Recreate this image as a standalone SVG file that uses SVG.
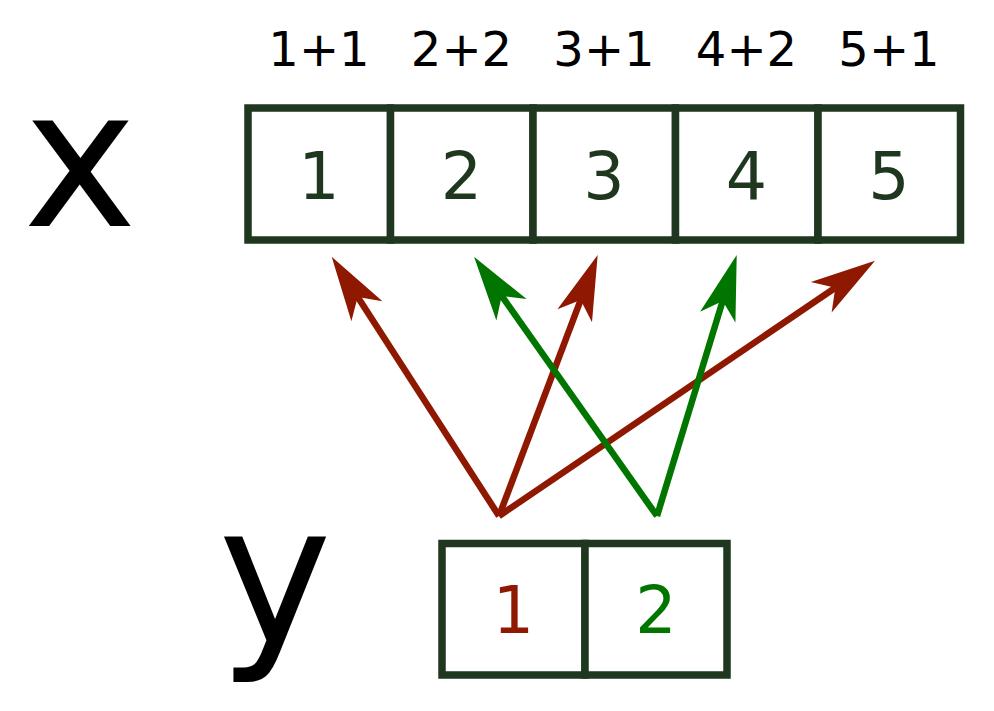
<svg xmlns="http://www.w3.org/2000/svg" width="994" height="711" viewBox="0 0 994 711">
<style>
text{font-family:"DejaVu Sans","Liberation Sans",sans-serif;text-anchor:middle}
.box{fill:#fff;stroke:#1e371e;stroke-width:7.5}
.num{font-size:65px;fill:#1e371e}
.lbl{font-size:48px;fill:#000}
.big{font-size:192px;fill:#000}
.red{stroke:#8e1800;stroke-width:6.5;fill:none;marker-end:url(#ar)}
.grn{stroke:#007500;stroke-width:6.5;fill:none;marker-end:url(#ag)}
</style>
<defs>
<marker id="ar" markerUnits="userSpaceOnUse" viewBox="-20 -22 70 44" markerWidth="70" markerHeight="44" refX="0" refY="0" orient="auto"><path d="M48,0 L-17,-18.5 L0,0 L-17,18.5 Z" fill="#8e1800"/></marker>
<marker id="ag" markerUnits="userSpaceOnUse" viewBox="-20 -22 70 44" markerWidth="70" markerHeight="44" refX="0" refY="0" orient="auto"><path d="M48,0 L-17,-18.5 L0,0 L-17,18.5 Z" fill="#007500"/></marker>
</defs>
<rect width="994" height="711" fill="#fff"/>
<text class="big" x="80" y="226">x</text>
<text class="big" x="275" y="642">y</text>
<g id="labels">
<text class="lbl" x="319" y="66">1+1</text>
<text class="lbl" x="461.5" y="66">2+2</text>
<text class="lbl" x="604" y="66">3+1</text>
<text class="lbl" x="746.5" y="66">4+2</text>
<text class="lbl" x="889" y="66">5+1</text>
</g>
<g id="x1"><rect class="box" x="248" y="108" width="142.5" height="132"/><text class="num" x="319" y="199">1</text></g>
<g id="x2"><rect class="box" x="390.5" y="108" width="142.5" height="132"/><text class="num" x="461.5" y="199">2</text></g>
<g id="x3"><rect class="box" x="533" y="108" width="142.5" height="132"/><text class="num" x="604" y="199">3</text></g>
<g id="x4"><rect class="box" x="675.5" y="108" width="142.5" height="132"/><text class="num" x="746.5" y="199">4</text></g>
<g id="x5"><rect class="box" x="818" y="108" width="142.5" height="132"/><text class="num" x="889" y="199">5</text></g>
<g id="y1"><rect class="box" x="442" y="543.5" width="143" height="131.5"/><text class="num" x="513.5" y="633" style="fill:#8e1800">1</text></g>
<g id="y2"><rect class="box" x="585" y="543.5" width="142" height="131.5"/><text class="num" x="656" y="633" style="fill:#007500">2</text></g>
<g id="connectors">
<line class="red" x1="499" y1="516" x2="357.7" y2="297"/>
<line class="red" x1="499" y1="516" x2="580.7" y2="299.9"/>
<line class="red" x1="499" y1="516" x2="835.3" y2="287.7"/>
<line class="grn" x1="657" y1="516" x2="501.7" y2="295.9"/>
<line class="grn" x1="657" y1="516" x2="722.7" y2="300.9"/>
</g>
</svg>
